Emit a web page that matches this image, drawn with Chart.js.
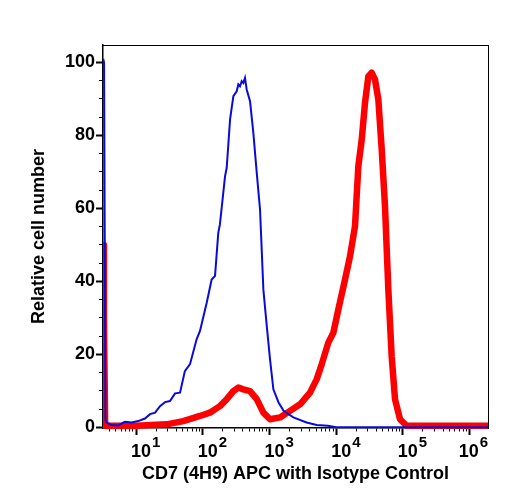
<!DOCTYPE html>
<html lang="en">
  <head>
    <meta charset="UTF-8" />
    <title>CD7 (4H9) APC histogram</title>
    <style>
      * {
        margin: 0;
        padding: 0;
        box-sizing: border-box;
      }
      body {
        background: #fff;
      }
      .chartBox {
        width: 508px;
        height: 500px;
      }
    </style>
  </head>
  <body>
    <div class="chartBox">
      <canvas id="myChart" width="508" height="500"></canvas>
    </div>

    <script src="https://cdn.jsdelivr.net/npm/chart.js"></script>

    <script>
      // isotype control (thin blue)
      const blueX = [3.22, 3.32, 3.48, 3.63, 4.3, 5.4, 6.8, 8.6, 10.8, 13.6, 16.2, 19.3, 22.9, 27.2, 32.3, 38.5, 45.7, 54, 64.5, 81, 91, 115, 136, 153, 171, 181, 216, 229, 257, 288, 323, 342, 362, 384, 406, 430, 456, 512, 574, 645, 723, 811, 912, 1021, 1146, 1370, 1630, 2285, 3610, 5117, 7500, 10000, 1890000];
      const blueY = [101, 100, 2, 1.3, 0.6, 0.5, 1.5, 1.3, 1.7, 2.4, 3.6, 4.0, 5.8, 6.9, 7.2, 9.3, 9.5, 15.4, 17.3, 24.1, 26.4, 34.2, 40.5, 41.5, 53.3, 55.6, 68.8, 71.2, 84.4, 90.8, 92.1, 94.0, 93.5, 94.9, 94.4, 95.8, 92.6, 89.4, 80.7, 69.8, 59.7, 37.8, 27.8, 18.6, 10.4, 6.8, 4.5, 2.7, 1.3, 0.6, 0.4, 0, 0];

      // CD7 (4H9) APC (thick red)
      const redX = [3.22, 3.3, 3.45, 10, 28.8, 51, 91, 128, 181, 229, 288, 342, 406, 512, 645, 811, 1021, 1442, 2037, 2877, 4064, 5117, 6081, 7638, 9080, 10790, 13590, 16150, 19190, 21520, 24200, 27100, 30400, 34100, 38300, 42900, 48200, 54000, 60600, 68000, 76300, 90700, 114000, 1890000];
      const redY = [50, 30, 0.4, 0.4, 0.8, 1.7, 3.1, 4.0, 5.8, 7.7, 9.9, 10.9, 10.4, 9.9, 7.7, 4.0, 2.2, 2.7, 4.5, 6.3, 9.5, 13.2, 17.3, 23.2, 25.9, 32.3, 40.5, 46.9, 55.2, 71.6, 78.9, 89, 96.2, 97.2, 95.3, 89.9, 76.2, 60.6, 37.8, 19.5, 7.7, 2.2, 0.4, 0.4];

      const xDecades = [1, 2, 3, 4, 5, 6];
      const yTicks = [0, 5, 10, 15, 20, 25, 30, 35, 40, 45, 50, 55, 60, 65, 70, 75, 80, 85, 90, 95, 100];
      const yLabels = [0, 20, 40, 60, 80, 100];

      const FONT = '"Liberation Sans", Arial, sans-serif';

      const toPoints = (xs, ys) => xs.map((x, i) => ({ x: x, y: ys[i] }));

      const isDecade = (v) => Math.abs(Math.log10(v) - Math.round(Math.log10(v))) < 1e-9;

      // draws 10^n labels under the x axis
      const decadeLabels = {
        id: "decadeLabels",
        afterDraw(chart) {
          const scale = chart.scales.x;
          const area = chart.chartArea;
          const ctx = chart.ctx;
          ctx.save();
          ctx.fillStyle = "#000";
          ctx.textAlign = "left";
          ctx.textBaseline = "alphabetic";
          xDecades.forEach((e) => {
            const px = scale.getPixelForValue(Math.pow(10, e));
            ctx.font = "bold 18px " + FONT;
            const wb = ctx.measureText("10").width;
            ctx.font = "bold 15px " + FONT;
            const we = ctx.measureText(String(e)).width;
            const total = wb + 1 + we;
            let left = px - 5;
            if (left + total > area.right) left = area.right - total;
            ctx.font = "bold 18px " + FONT;
            ctx.fillText("10", left, area.bottom + 29);
            ctx.font = "bold 15px " + FONT;
            ctx.fillText(String(e), left + wb + 1, area.bottom + 19);
          });
          ctx.restore();
        },
      };

      const data = {
        datasets: [
          {
            label: "Isotype Control",
            data: toPoints(blueX, blueY),
            borderColor: "#0a0ad8",
            borderWidth: 2,
            pointRadius: 0,
            tension: 0,
            clip: { left: 0, top: 0, right: 0, bottom: 2 },
          },
          {
            label: "CD7 (4H9) APC",
            data: toPoints(redX, redY),
            borderColor: "#ff0000",
            borderWidth: 6.5,
            pointRadius: 0,
            tension: 0,
            borderJoinStyle: "round",
            clip: { left: 0, top: 0, right: 0, bottom: 4 },
          },
        ],
      };

      const config = {
        type: "line",
        data: data,
        options: {
          responsive: false,
          animation: false,
          layout: { padding: 0 },
          plugins: {
            legend: { display: false },
            tooltip: { enabled: false },
          },
          scales: {
            x: {
              type: "logarithmic",
              position: "bottom",
              min: 3.2,
              max: 1890000,
              afterBuildTicks: (scale) => {
                const ticks = [];
                for (let e = 0; e <= 6; e++) {
                  for (let m = 1; m <= 9; m++) {
                    const v = m * Math.pow(10, e);
                    if (v >= scale.min && v <= scale.max) ticks.push({ value: v, major: m === 1 });
                  }
                }
                scale.ticks = ticks;
              },
              afterFit: (scale) => {
                scale.height = 72;
              },
              ticks: { display: false, autoSkip: false },
              grid: {
                drawOnChartArea: false,
                tickLength: 7,
                tickColor: "#000",
                tickWidth: (c) => (c.tick && isDecade(c.tick.value) ? 2 : 1),
                tickBorderDash: (c) => (c.tick && isDecade(c.tick.value) ? [] : [3, 100]),
              },
              border: { color: "#000", width: 1.5 },
              title: {
                display: true,
                text: "CD7 (4H9) APC with Isotype Control",
                color: "#000",
                font: { family: FONT, size: 18, weight: "bold" },
                padding: { top: 0, bottom: 15 },
              },
            },
            x2: {
              type: "linear",
              position: "top",
              afterFit: (scale) => {
                scale.height = 45;
              },
              ticks: { display: false },
              grid: { display: false },
              border: { color: "#000", width: 1 },
            },
            y: {
              type: "linear",
              position: "left",
              min: -0.2,
              max: 104.8,
              afterBuildTicks: (scale) => {
                scale.ticks = yTicks.map((v) => ({ value: v }));
              },
              afterFit: (scale) => {
                scale.width = 103;
              },
              ticks: {
                autoSkip: false,
                padding: 1,
                color: "#000",
                font: { family: FONT, size: 18, weight: "bold" },
                callback: (v) => (yLabels.includes(v) ? String(v) : ""),
              },
              grid: {
                drawOnChartArea: false,
                tickLength: 7,
                tickColor: "#000",
                tickWidth: (c) => (c.tick && c.tick.value % 20 === 0 ? 2 : 1),
                tickBorderDash: (c) => (c.tick && c.tick.value % 20 === 0 ? [] : [0, 3, 4, 100]),
              },
              border: { color: "#000", width: 1.5 },
              title: {
                display: true,
                text: "Relative cell number",
                color: "#000",
                font: { family: FONT, size: 18, weight: "bold" },
                padding: { top: 28, bottom: 0 },
              },
            },
            y2: {
              type: "linear",
              position: "right",
              afterFit: (scale) => {
                scale.width = 20;
              },
              ticks: { display: false },
              grid: { display: false },
              border: { color: "#000", width: 1 },
            },
          },
        },
        plugins: [decadeLabels],
      };

      const myChart = new Chart(document.getElementById("myChart"), config);
    </script>
  </body>
</html>
